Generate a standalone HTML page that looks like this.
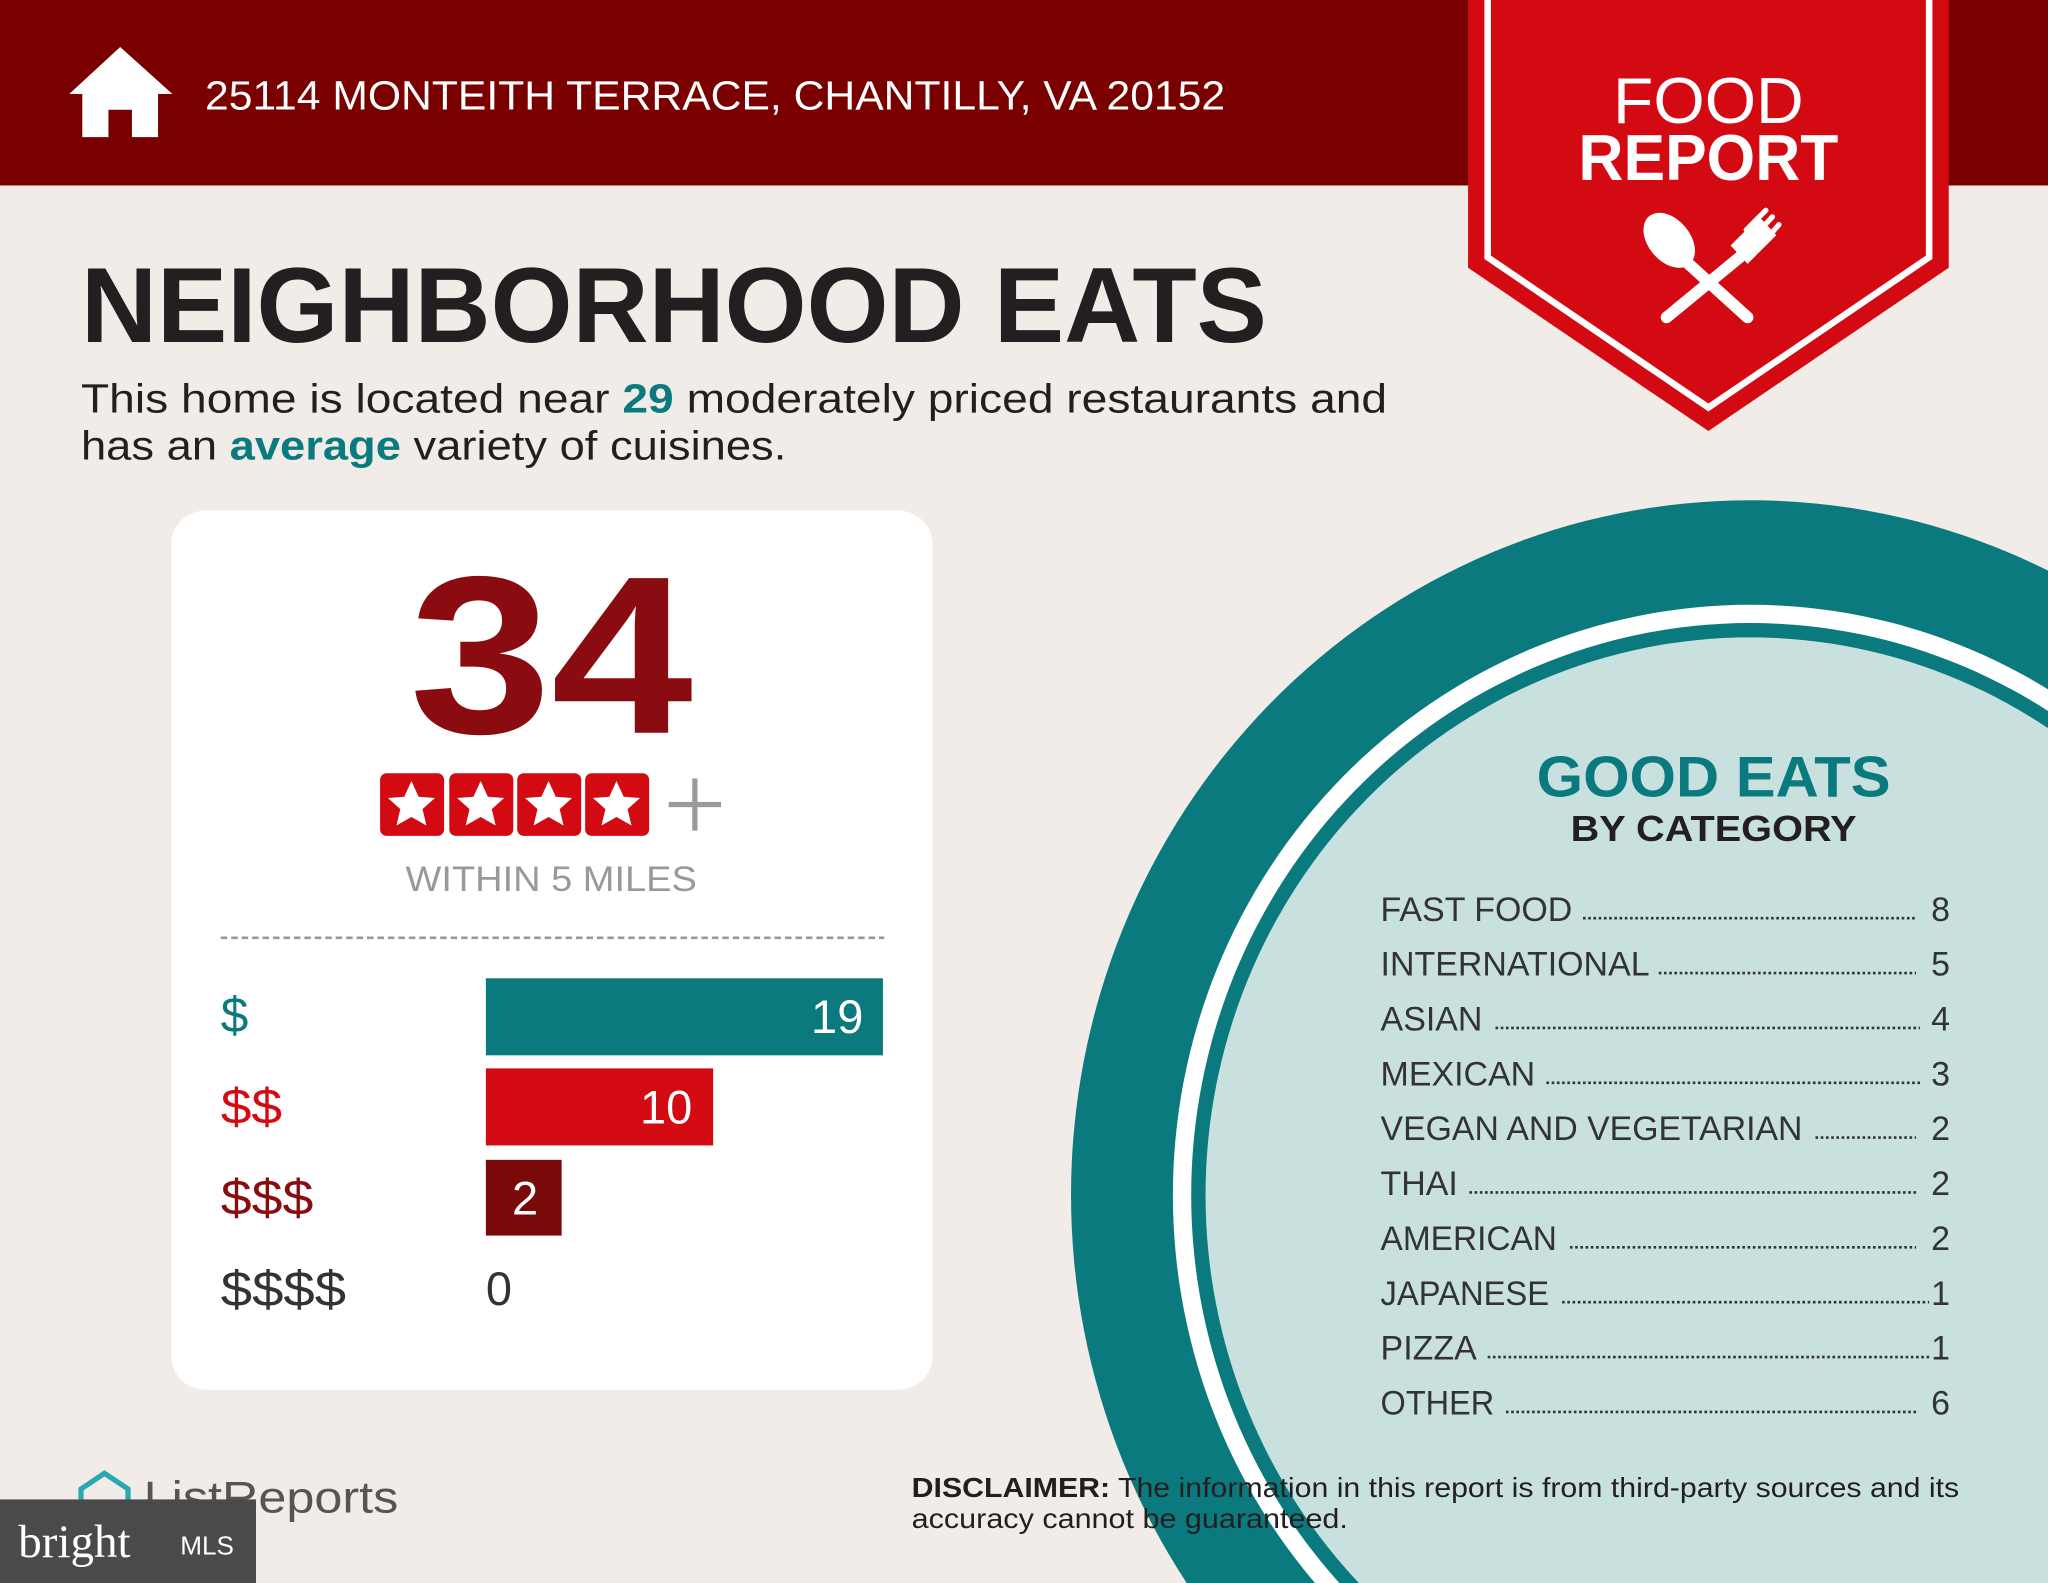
<!DOCTYPE html>
<html><head><meta charset="utf-8"><style>
html,body{margin:0;padding:0;background:#f1ece8;overflow:hidden;width:2048px;height:1583px;}
svg{display:block;}
text{font-family:"Liberation Sans",sans-serif;}
</style></head><body>
<svg width="2048" height="1583" viewBox="0 0 1568 1212" xmlns="http://www.w3.org/2000/svg">
<rect width="1568" height="1212" fill="#f1ece8"/>
<!-- circle -->
<ellipse cx="1340" cy="915" rx="520" ry="532" fill="#0b7a7e"/>
<ellipse cx="1340" cy="915" rx="442" ry="452" fill="#ffffff"/>
<ellipse cx="1340" cy="915" rx="428" ry="438" fill="#0b7a7e"/>
<ellipse cx="1340" cy="915" rx="417" ry="427" fill="#c8e1df"/>
<!-- header -->
<rect x="0" y="0" width="1568" height="142" fill="#7a0000"/>
<polygon points="92,36 132,72 121,72 121,105 101,105 101,84 83,84 83,105 63,105 63,72 53,72" fill="#fff"/>
<text x="157" y="84" font-size="31" fill="#fff" textLength="781" lengthAdjust="spacingAndGlyphs">25114 MONTEITH TERRACE, CHANTILLY, VA 20152</text>
<!-- ribbon -->
<polygon points="1124,0 1492,0 1492,205 1308,330 1124,205" fill="#d40a12"/>
<polyline points="1139,0 1139,197 1308,312 1477,197 1477,0" fill="none" stroke="#fff" stroke-width="5"/>
<text x="1308" y="94" font-size="50" fill="#fff" text-anchor="middle" textLength="146" lengthAdjust="spacingAndGlyphs">FOOD</text>
<text x="1308" y="138" font-size="50" font-weight="bold" fill="#fff" text-anchor="middle" textLength="199" lengthAdjust="spacingAndGlyphs">REPORT</text>
<g fill="#fff" stroke="#fff">
<ellipse cx="1278" cy="184" rx="16" ry="24" transform="rotate(-40 1278 184)" stroke="none"/>
<line x1="1285" y1="195" x2="1338" y2="243" stroke-width="9" stroke-linecap="round"/>
<line x1="1338" y1="192" x2="1276" y2="243" stroke-width="9" stroke-linecap="round"/>
<polygon points="1325,188 1347,166 1360,180 1338,202" stroke="none"/>
<path d="M1337,176 L1352,161 M1343,181 L1357,166 M1349,187 L1362,172" stroke-width="4" stroke-linecap="round"/>
</g>
<!-- headline -->
<text x="62" y="262" font-size="82" font-weight="bold" fill="#231f20" textLength="908" lengthAdjust="spacingAndGlyphs">NEIGHBORHOOD EATS</text>
<text x="62" y="316" font-size="31" fill="#231f20" textLength="1000" lengthAdjust="spacingAndGlyphs">This home is located near <tspan fill="#0b7a7e" font-weight="bold">29</tspan> moderately priced restaurants and</text>
<text x="62" y="352" font-size="31" fill="#231f20" textLength="540" lengthAdjust="spacingAndGlyphs">has an <tspan fill="#0b7a7e" font-weight="bold">average</tspan> variety of cuisines.</text>
<!-- card -->
<rect x="131" y="391" width="583" height="673" rx="26" fill="#fff"/>
<text x="422" y="561" font-size="172" font-weight="bold" fill="#8a0c10" text-anchor="middle" textLength="217" lengthAdjust="spacingAndGlyphs">34</text>
<g>
<rect x="291" y="592" width="49" height="48" rx="5" fill="#d40a12"/>
<rect x="344" y="592" width="49" height="48" rx="5" fill="#d40a12"/>
<rect x="396" y="592" width="49" height="48" rx="5" fill="#d40a12"/>
<rect x="448" y="592" width="49" height="48" rx="5" fill="#d40a12"/>
<g fill="#fff">
<polygon id="st" points="315,598 320.5,610 333,611 323.5,619.5 326.5,632 315,625.5 303.5,632 306.5,619.5 297,611 309.5,610"/>
<use href="#st" x="53"/><use href="#st" x="105"/><use href="#st" x="157"/>
</g>
<rect x="512" y="614" width="40" height="4" fill="#9a9a9a"/>
<rect x="530" y="596" width="4" height="40" fill="#9a9a9a"/>
</g>
<text x="422" y="682" font-size="27" fill="#999" text-anchor="middle" textLength="223" lengthAdjust="spacingAndGlyphs">WITHIN 5 MILES</text>
<line x1="169" y1="718" x2="677" y2="718" stroke="#999" stroke-width="2" stroke-dasharray="5 3"/>
<text x="169" y="790" font-size="38" fill="#0b7a7e">$</text>
<text x="169" y="860" font-size="38" fill="#d40a12" textLength="47" lengthAdjust="spacingAndGlyphs">$$</text>
<text x="169" y="930" font-size="38" fill="#8a0c10" textLength="71" lengthAdjust="spacingAndGlyphs">$$$</text>
<text x="169" y="1000" font-size="38" fill="#333" textLength="96" lengthAdjust="spacingAndGlyphs">$$$$</text>
<rect x="372" y="749" width="304" height="59" fill="#0b7a7e"/>
<rect x="372" y="818" width="174" height="59" fill="#d40a12"/>
<rect x="372" y="888" width="58" height="58" fill="#7a0a0a"/>
<text x="661" y="791" font-size="36" fill="#fff" text-anchor="end">19</text>
<text x="530" y="860" font-size="36" fill="#fff" text-anchor="end">10</text>
<text x="402" y="930" font-size="36" fill="#fff" text-anchor="middle">2</text>
<text x="372" y="999" font-size="36" fill="#333">0</text>
<!-- category list -->
<text x="1312" y="610" font-size="44" font-weight="bold" fill="#0b7a7e" text-anchor="middle" textLength="271" lengthAdjust="spacingAndGlyphs">GOOD EATS</text>
<text x="1312" y="644" font-size="28" font-weight="bold" fill="#231f20" text-anchor="middle" textLength="219" lengthAdjust="spacingAndGlyphs">BY CATEGORY</text>
<g font-size="26" fill="#333">
<text x="1057" y="705">FAST FOOD</text><text x="1493" y="705" text-anchor="end">8</text>
<text x="1057" y="747">INTERNATIONAL</text><text x="1493" y="747" text-anchor="end">5</text>
<text x="1057" y="789">ASIAN</text><text x="1493" y="789" text-anchor="end">4</text>
<text x="1057" y="831">MEXICAN</text><text x="1493" y="831" text-anchor="end">3</text>
<text x="1057" y="873" textLength="323" lengthAdjust="spacingAndGlyphs">VEGAN AND VEGETARIAN</text><text x="1493" y="873" text-anchor="end">2</text>
<text x="1057" y="915">THAI</text><text x="1493" y="915" text-anchor="end">2</text>
<text x="1057" y="957" textLength="135" lengthAdjust="spacingAndGlyphs">AMERICAN</text><text x="1493" y="957" text-anchor="end">2</text>
<text x="1057" y="999" textLength="129" lengthAdjust="spacingAndGlyphs">JAPANESE</text><text x="1493" y="999" text-anchor="end">1</text>
<text x="1057" y="1041">PIZZA</text><text x="1493" y="1041" text-anchor="end">1</text>
<text x="1057" y="1083" textLength="87" lengthAdjust="spacingAndGlyphs">OTHER</text><text x="1493" y="1083" text-anchor="end">6</text>
</g>
<g stroke="#333" stroke-width="2" stroke-dasharray="2 2">
<line x1="1212" y1="703" x2="1467" y2="703"/>
<line x1="1270" y1="745" x2="1467" y2="745"/>
<line x1="1145" y1="787" x2="1470" y2="787"/>
<line x1="1184" y1="829" x2="1470" y2="829"/>
<line x1="1390" y1="871" x2="1467" y2="871"/>
<line x1="1125" y1="913" x2="1467" y2="913"/>
<line x1="1202" y1="955" x2="1467" y2="955"/>
<line x1="1196" y1="997" x2="1477" y2="997"/>
<line x1="1139" y1="1039" x2="1477" y2="1039"/>
<line x1="1153" y1="1081" x2="1467" y2="1081"/>
</g>
<!-- disclaimer -->
<text x="698" y="1146" font-size="21" fill="#231f20" textLength="802" lengthAdjust="spacingAndGlyphs"><tspan font-weight="bold">DISCLAIMER:</tspan> The information in this report is from third-party sources and its</text>
<text x="698" y="1170" font-size="21" fill="#231f20" textLength="334" lengthAdjust="spacingAndGlyphs">accuracy cannot be guaranteed.</text>
<!-- logo -->
<path d="M62,1160 L62,1140 L80,1128 L98,1140 L98,1160" fill="none" stroke="#2aa8b0" stroke-width="4"/>
<text x="110" y="1158" font-size="34" fill="#555" textLength="195" lengthAdjust="spacingAndGlyphs">ListReports</text>
<rect x="0" y="1148" width="196" height="64" fill="#4a4a4a"/>
<text x="14" y="1192" font-size="36" fill="#fff" style="font-family:'Liberation Serif',serif">bright</text>
<text x="138" y="1190" font-size="20" fill="#fff">MLS</text>
</svg>
</body></html>
